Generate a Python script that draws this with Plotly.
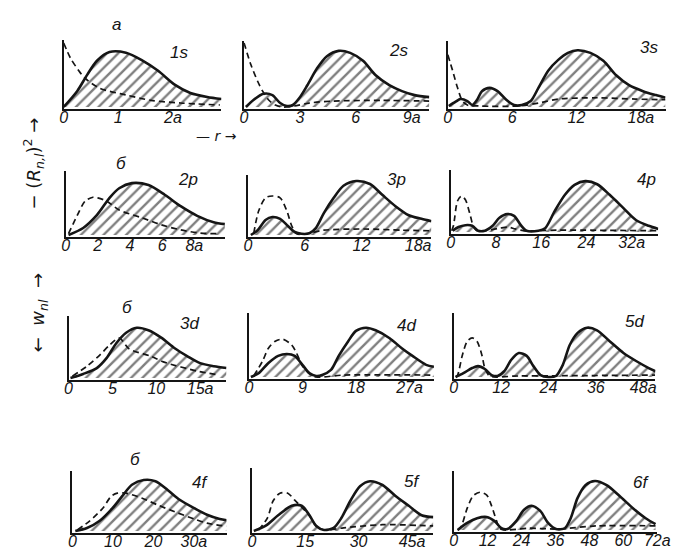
import plotly.graph_objects as go

W, H = 679, 547

# ---------------- data (r in units of a, heights relative) ----------------
# 1s
w_1s_r = [0.0, 0.25, 0.43, 0.61, 0.84, 1.14, 1.43, 1.73, 2.04, 2.32, 2.63, 2.89]
w_1s = [0.0, 0.24, 0.48, 0.69, 0.82, 0.81, 0.70, 0.54, 0.33, 0.21, 0.15, 0.12]
d_1s_r = [0.0, 0.125, 0.27, 0.39, 0.66, 1.14, 1.6, 2.14, 2.86]
d_1s = [0.955, 0.73, 0.55, 0.43, 0.28, 0.18, 0.10, 0.06, 0.03]
t_1s = [0, 1, 2]
tt_1s = ["0", "1", "2a"]

# 2s
w_2s_r = [0.1, 0.52, 1.05, 1.52, 1.94, 2.3, 2.62, 2.98, 3.4, 3.93, 4.45, 5.08, 5.7, 6.39, 7.07, 7.8, 8.48, 9.16, 9.95]
w_2s = [0.0, 0.11, 0.20, 0.18, 0.06, 0.015, 0.03, 0.14, 0.33, 0.59, 0.77, 0.85, 0.82, 0.70, 0.48, 0.33, 0.24, 0.18, 0.15]
d_2s_r = [0.0, 0.37, 0.73, 1.0, 1.31, 1.68, 2.1, 2.7, 3.5, 4.8, 7.4, 9.95]
d_2s = [0.97, 0.64, 0.39, 0.24, 0.11, 0.03, 0.0, 0.015, 0.06, 0.09, 0.10, 0.09]
t_2s = [0, 3, 6, 9]
tt_2s = ["0", "3", "6", "9a"]

# 3s
w_3s_r = [0.09, 0.73, 1.18, 1.82, 2.27, 2.73, 3.18, 3.91, 4.64, 5.45, 6.18, 6.9, 7.73, 8.45, 9.36, 10.27,
          11.2, 12.1, 13.3, 14.5, 15.7, 16.9, 18.2, 19.4, 20.3]
w_3s = [0.015, 0.08, 0.12, 0.09, 0.03, 0.11, 0.24, 0.29, 0.24, 0.11, 0.03, 0.03, 0.09, 0.29, 0.55, 0.71,
        0.82, 0.86, 0.82, 0.70, 0.48, 0.33, 0.24, 0.18, 0.14]
d_3s_r = [0.0, 0.45, 0.91, 1.36, 1.82, 3.0, 6.6, 8.45, 10.3, 13.9, 17.5, 20.3]
d_3s = [0.79, 0.55, 0.29, 0.09, 0.03, 0.015, 0.015, 0.06, 0.12, 0.14, 0.12, 0.11]
t_3s = [0, 6, 12, 18]
tt_3s = ["0", "6", "12", "18a"]

# 2p
w_2p_r = [0.18, 1.09, 1.94, 2.73, 3.33, 4.12, 5.15, 6.18, 7.15, 8.18, 9.2, 9.9]
w_2p = [0.0, 0.11, 0.31, 0.58, 0.73, 0.81, 0.78, 0.625, 0.45, 0.30, 0.20, 0.17]
d_2p_r = [0.18, 0.73, 1.21, 1.7, 2.0, 2.55, 3.33, 4.73, 5.94, 7.15, 8.36, 9.6]
d_2p = [0.02, 0.31, 0.53, 0.59, 0.58, 0.53, 0.39, 0.27, 0.16, 0.08, 0.03, 0.02]
t_2p = [0, 2, 4, 6, 8]
tt_2p = ["0", "2", "4", "6", "8a"]

# 3p
w_3p_r = [0.31, 1.03, 1.86, 2.58, 3.4, 4.23, 4.95, 5.67, 6.5, 7.2, 8.04, 9.07, 10.1, 11.44, 12.9, 14.2,
          15.6, 17.0, 18.35, 19.4]
w_3p = [0.0, 0.08, 0.25, 0.30, 0.27, 0.15, 0.05, 0.02, 0.03, 0.12, 0.37, 0.62, 0.82, 0.90, 0.85, 0.67,
        0.48, 0.33, 0.27, 0.23]
d_3p_r = [0.62, 1.13, 1.86, 2.58, 3.4, 4.12, 4.64, 5.15, 6.5, 8.0, 12.2, 16.3, 19.4]
d_3p = [0.03, 0.40, 0.62, 0.65, 0.62, 0.40, 0.15, 0.02, 0.03, 0.08, 0.10, 0.08, 0.07]
t_3p = [0, 6, 12, 18]
tt_3p = ["0", "6", "12", "18a"]

# 4p
w_4p_r = [0.34, 1.38, 2.59, 3.79, 4.83, 6.03, 7.41, 8.62, 10.0, 11.2, 12.4, 13.4, 15.5, 16.7, 18.4, 20.2,
          21.9, 23.8, 25.9, 28.1, 30.5, 32.8, 35.0, 36.7]
w_4p = [0.02, 0.08, 0.11, 0.10, 0.02, 0.02, 0.10, 0.23, 0.29, 0.26, 0.11, 0.02, 0.02, 0.06, 0.34, 0.60,
        0.76, 0.82, 0.77, 0.60, 0.39, 0.19, 0.10, 0.05]
d_4p_r = [0.17, 0.5, 1.2, 1.9, 2.6, 3.45, 3.97, 4.66, 6.0, 8.6, 10.0, 11.4, 12.9, 19.0, 36.7]
d_4p = [0.02, 0.11, 0.50, 0.58, 0.52, 0.27, 0.10, 0.02, 0.02, 0.06, 0.08, 0.05, 0.02, 0.03, 0.02]
t_4p = [0, 8, 16, 24, 32]
tt_4p = ["0", "8", "16", "24", "32a"]

# 3d
w_3d_r = [0.22, 1.67, 3.22, 4.33, 5.44, 6.56, 7.78, 9.1, 10.56, 12.1, 13.56, 15.0, 16.56, 18.0]
w_3d = [0.0, 0.065, 0.16, 0.32, 0.56, 0.73, 0.81, 0.77, 0.65, 0.48, 0.35, 0.24, 0.19, 0.16]
d_3d_r = [0.44, 2.1, 3.56, 4.67, 5.78, 6.9, 9.4, 10.8, 14.7, 17.2]
d_3d = [0.03, 0.19, 0.37, 0.53, 0.645, 0.47, 0.35, 0.26, 0.11, 0.05]
t_3d = [0, 5, 10, 15]
tt_3d = ["0", "5", "10", "15a"]

# 4d
w_4d_r = [0.33, 1.64, 3.28, 4.92, 6.39, 7.7, 9.0, 10.16, 11.3, 12.3, 13.8, 15.1, 16.7, 18.0, 19.7, 21.3,
          23.6, 25.7, 27.5, 29.8, 31.1]
w_4d = [0.0, 0.06, 0.22, 0.33, 0.36, 0.33, 0.19, 0.06, 0.016, 0.03, 0.11, 0.33, 0.56, 0.72, 0.77, 0.73,
        0.61, 0.45, 0.33, 0.19, 0.16]
d_4d_r = [0.8, 2.3, 3.28, 4.43, 5.74, 7.2, 8.0, 9.0, 10.2, 11.3, 15.9, 31.1]
d_4d = [0.015, 0.25, 0.45, 0.56, 0.59, 0.50, 0.375, 0.17, 0.05, 0.0, 0.03, 0.03]
t_4d = [0, 9, 18, 27]
tt_4d = ["0", "9", "18", "27a"]

# 5d
w_5d_r = [0.5, 2.47, 4.69, 6.17, 7.9, 9.6, 11.1, 12.8, 14.6, 16.5, 18.5, 20.2, 22.0, 24.0, 25.9, 27.65,
          29.4, 31.4, 33.8, 36.3, 39.5, 43.0, 46.2, 49.4, 51.1]
w_5d = [0.0, 0.06, 0.14, 0.17, 0.125, 0.03, 0.016, 0.09, 0.27, 0.375, 0.33, 0.17, 0.03, 0.0, 0.016, 0.19,
        0.50, 0.69, 0.77, 0.73, 0.56, 0.375, 0.25, 0.14, 0.09]
d_5d_r = [0.5, 1.0, 2.2, 3.46, 4.69, 5.9, 7.16, 7.9, 9.1, 16.5, 51.0]
d_5d = [0.0, 0.03, 0.34, 0.56, 0.61, 0.56, 0.34, 0.14, 0.016, 0.016, 0.03]
t_5d = [0, 12, 24, 36, 48]
tt_5d = ["0", "12", "24", "36", "48a"]

# 4f
w_4f_r = [0.7, 3.6, 6.75, 9.9, 12.3, 14.7, 17.6, 20.5, 23.6, 26.5, 30.1, 33.25, 36.4, 38.1]
w_4f = [0.0, 0.05, 0.17, 0.38, 0.58, 0.77, 0.85, 0.83, 0.68, 0.52, 0.38, 0.27, 0.20, 0.18]
d_4f_r = [1.2, 4.3, 7.5, 9.6, 11.1, 13.25, 17.1, 21.2, 25.3, 30.1, 33.25, 38.1]
d_4f = [0.017, 0.17, 0.38, 0.58, 0.63, 0.63, 0.55, 0.43, 0.32, 0.20, 0.13, 0.08]
t_4f = [0, 10, 20, 30]
tt_4f = ["0", "10", "20", "30a"]

# 5f
w_5f_r = [0.55, 3.8, 7.4, 11.2, 14.0, 16.2, 18.1, 20.3, 23.0, 25.2, 27.7, 30.4, 33.2, 36.7, 40.3, 44.1,
          47.7, 51.0]
w_5f = [0.0, 0.08, 0.25, 0.40, 0.40, 0.25, 0.08, 0.016, 0.05, 0.21, 0.48, 0.71, 0.79, 0.73, 0.56, 0.40,
        0.25, 0.22]
d_5f_r = [1.9, 4.4, 6.0, 7.9, 10.1, 12.05, 14.0, 16.2, 18.1, 20.3, 25.8, 36.7, 51.0]
d_5f = [0.016, 0.21, 0.48, 0.60, 0.60, 0.49, 0.38, 0.24, 0.08, 0.016, 0.05, 0.10, 0.08]
t_5f = [0, 15, 30, 45]
tt_5f = ["0", "15", "30", "45a"]

# 6f
w_6f_r = [1.4, 4.8, 8.3, 11.7, 14.5, 16.9, 19.0, 22.1, 24.8, 27.6, 30.7, 33.4, 36.2, 39.3, 41.4, 43.8,
          46.6, 50.0, 54.1, 58.6, 63.4, 67.9, 71.4]
w_6f = [0.0, 0.12, 0.20, 0.22, 0.15, 0.03, 0.017, 0.15, 0.34, 0.41, 0.32, 0.12, 0.017, 0.03, 0.20, 0.54,
        0.76, 0.83, 0.76, 0.58, 0.37, 0.20, 0.10]
d_6f_r = [1.4, 2.4, 4.8, 6.9, 9.3, 11.7, 13.4, 15.2, 16.2, 17.9, 26.5, 36.9, 50.7, 71.4]
d_6f = [0.0, 0.03, 0.37, 0.58, 0.64, 0.59, 0.41, 0.15, 0.03, 0.0, 0.03, 0.017, 0.07, 0.07]
t_6f = [0, 12, 24, 36, 48, 60, 72]
tt_6f = ["0", "12", "24", "36", "48", "60", "72a"]

# ---------------- layout of the panels (pixels: origin x, px per a, baseline y, top y) ----------------
panels = [
    ("1s", w_1s_r, w_1s, d_1s_r, d_1s, t_1s, tt_1s, (53, 56.0, 99, 32), (171, 44)),
    ("2s", w_2s_r, w_2s, d_2s_r, d_2s, t_2s, tt_2s, (238, 19.1, 99, 33), (396, 43)),
    ("3s", w_3s_r, w_3s, d_3s_r, d_3s, t_3s, tt_3s, (447, 11.0, 99, 33), (653, 39)),
    ("2p", w_2p_r, w_2p, d_2p_r, d_2p, t_2p, tt_2p, (55, 16.5, 227, 163), (181, 171)),
    ("3p", w_3p_r, w_3p, d_3p_r, d_3p, t_3p, tt_3p, (242, 9.7, 227, 167), (394, 171)),
    ("4p", w_4p_r, w_4p, d_4p_r, d_4p, t_4p, tt_4p, (450, 5.8, 224, 162), (651, 171)),
    ("3d", w_3d_r, w_3d, d_3d_r, d_3d, t_3d, tt_3d, (58, 9.0, 370, 308), (182, 315)),
    ("4d", w_4d_r, w_4d, d_4d_r, d_4d, t_4d, tt_4d, (243, 6.1, 369, 305), (405, 317)),
    ("5d", w_5d_r, w_5d, d_5d_r, d_5d, t_5d, tt_5d, (453, 4.05, 369, 305), (638, 313)),
    ("4f", w_4f_r, w_4f, d_4f_r, d_4f, t_4f, tt_4f, (62, 4.15, 523, 463), (193, 474)),
    ("5f", w_5f_r, w_5f, d_5f_r, d_5f, t_5f, tt_5f, (246, 3.65, 523, 460), (410, 473)),
    ("6f", w_6f_r, w_6f, d_6f_r, d_6f, t_6f, tt_6f, (453, 2.9, 522, 463), (645, 474)),
]

INK = "#151515"
FONT = "Liberation Sans"
fig = go.Figure()
layout = dict(
    width=W, height=H, margin=dict(l=0, r=0, t=0, b=0),
    paper_bgcolor="white", plot_bgcolor="rgba(0,0,0,0)", showlegend=False,
)
annotations = []
E = 0.03

for i, (name, rw, w, rd, d, tv, tt, geo, lab) in enumerate(panels):
    ox, k, base, top = geo
    xmax = max(rw[-1], rd[-1], tv[-1])
    xs = "" if i == 0 else str(i + 1)
    xa, ya = "x" + xs, "y" + xs
    bot = base + E / (1 + E) * (base - top) / (1 - E / (1 + E))
    layout["xaxis" + xs] = dict(
        domain=[ox / W, (ox + k * xmax) / W], range=[0, xmax], anchor=ya,
        showline=True, linecolor=INK, linewidth=2, showgrid=False, zeroline=False,
        ticks="", ticklen=0, tickvals=tv, ticktext=tt, ticklabelstandoff=-7,
        tickfont=dict(family=FONT, size=16, color=INK, style="italic"),
    )
    layout["yaxis" + xs] = dict(
        domain=[1 - bot / H, 1 - top / H], range=[-E, 1], anchor=xa,
        showline=True, linecolor=INK, linewidth=2, showgrid=False, zeroline=False,
        showticklabels=False, ticks="",
    )
    fig.add_trace(go.Scatter(
        x=rw, y=w, mode="lines", xaxis=xa, yaxis=ya,
        line=dict(color=INK, width=2.6, shape="spline", smoothing=0.8),
        fill="tozeroy", fillcolor="rgba(0,0,0,0)",
        fillpattern=dict(shape="/", fgcolor="#000000", bgcolor="rgba(255,255,255,0)", size=8, solidity=0.3),
        hoverinfo="skip",
    ))
    fig.add_trace(go.Scatter(
        x=rd, y=d, mode="lines", xaxis=xa, yaxis=ya,
        line=dict(color=INK, width=1.7, dash="6px,4px", shape="spline", smoothing=0.8),
        hoverinfo="skip",
    ))
    annotations.append(dict(
        x=lab[0] / W, y=1 - lab[1] / H, xref="paper", yref="paper", showarrow=False,
        text=name, font=dict(family=FONT, size=17, color=INK, style="italic"),
        xanchor="center", yanchor="middle",
    ))

# row letters and axis captions
row_letters = [("а", 107, 17), ("б", 112, 156), ("б", 118, 299), ("б", 127, 451)]
for txt, px, py in row_letters:
    annotations.append(dict(
        x=px / W, y=1 - py / H, xref="paper", yref="paper", showarrow=False, text=txt,
        font=dict(family=FONT, size=17, color=INK, style="italic"), xanchor="center", yanchor="middle",
    ))

CAP = "DejaVu Sans"
annotations.append(dict(
    x=210 / W, y=1 - 128 / H, xref="paper", yref="paper", showarrow=False,
    text="— <i>r</i> →", font=dict(family=CAP, size=14, color=INK),
    xanchor="center", yanchor="middle",
))
annotations.append(dict(
    x=22 / W, y=1 - 155 / H, xref="paper", yref="paper", showarrow=False, textangle=-90,
    text="− (<i>R</i><sub><i>n,l</i></sub>)<sup>2</sup> →", font=dict(family=CAP, size=18, color=INK),
    xanchor="center", yanchor="middle",
))
annotations.append(dict(
    x=28 / W, y=1 - 305 / H, xref="paper", yref="paper", showarrow=False, textangle=-90,
    text="←  <i>w</i><sub><i>nl</i></sub>  →", font=dict(family=CAP, size=18, color=INK),
    xanchor="center", yanchor="middle",
))

layout["annotations"] = annotations
fig.update_layout(**layout)
fig.write_html("out.html")
